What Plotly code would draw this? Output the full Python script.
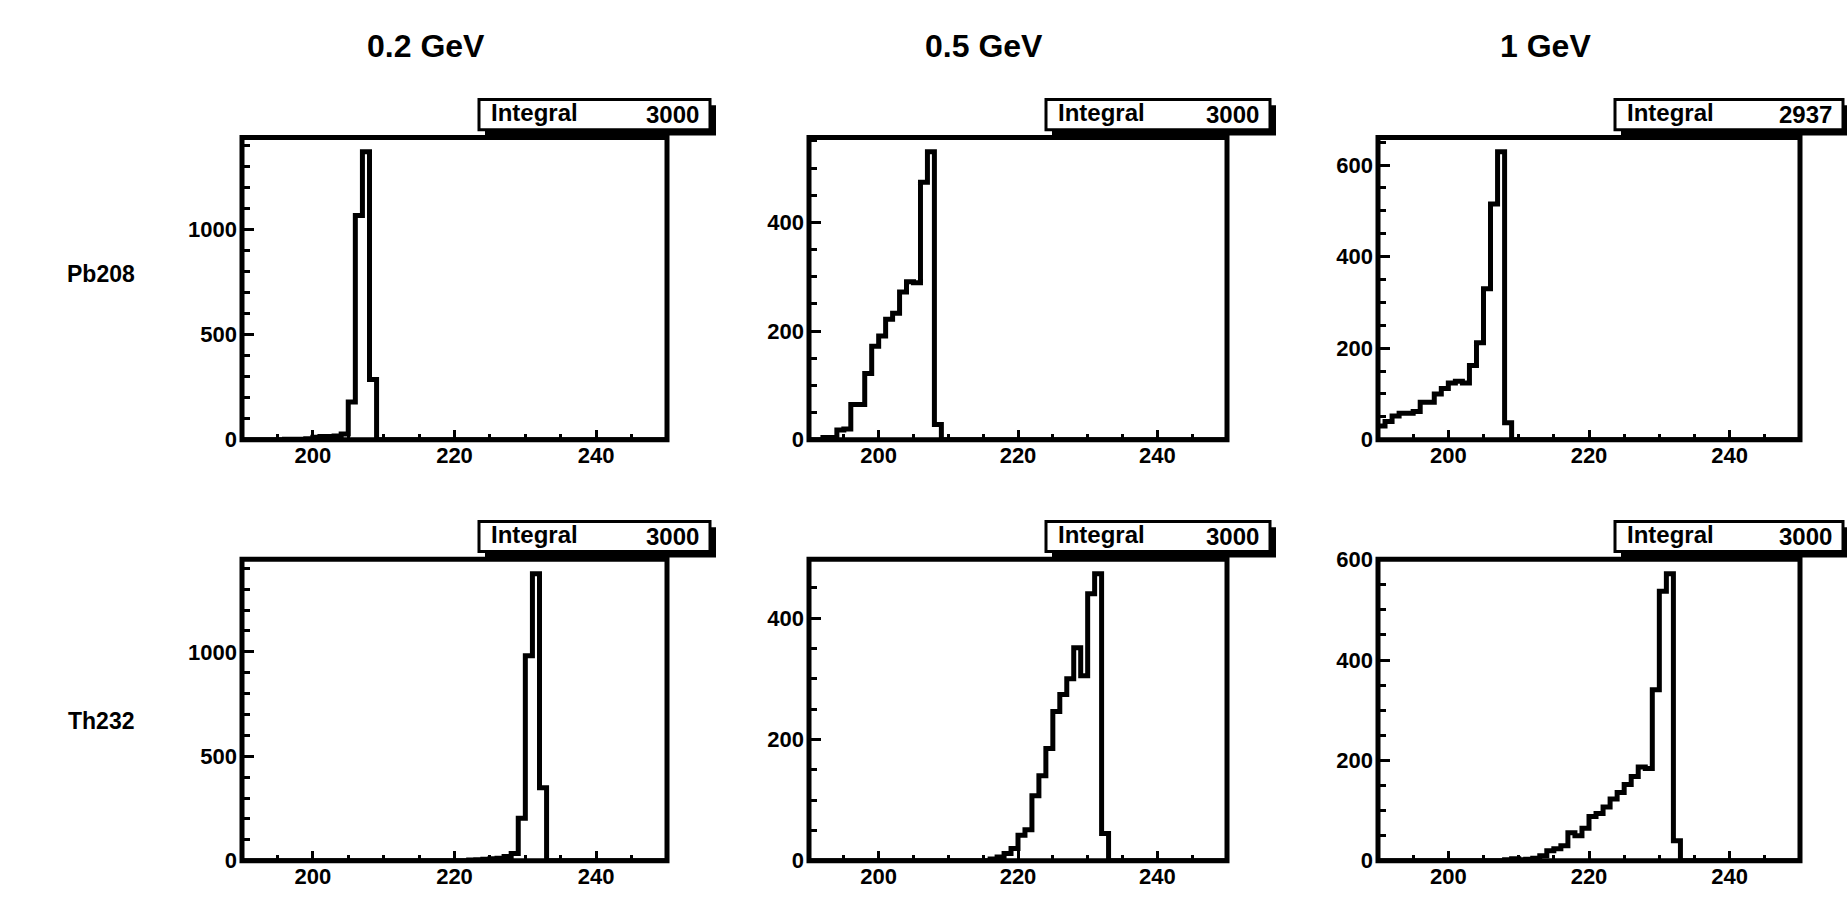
import plotly.graph_objects as go

# Histogram binning (unit-width bins from 190 to 250)
X_MIN, X_MAX = 190, 250

col_titles = ["0.2 GeV", "0.5 GeV", "1 GeV"]
row_titles = ["Pb208", "Th232"]

# Bin contents: first bin low edge + counts of consecutive bins
pb208_02_start = 196
pb208_02 = [2, 3, 3, 5, 12, 15, 15, 18, 28, 179, 1066, 1368, 286]
pb208_05_start = 192
pb208_05 = [4, 4, 18, 20, 65, 65, 122, 172, 191, 222, 233, 272, 291, 289, 474, 530, 28]
pb208_1_start = 190
pb208_1 = [30, 40, 52, 58, 58, 62, 82, 82, 100, 112, 124, 128, 124, 162, 212, 330, 515, 629, 37]

th232_02_start = 222
th232_02 = [3, 5, 7, 10, 12, 20, 35, 203, 981, 1374, 350]
th232_05_start = 216
th232_05 = [3, 6, 12, 20, 42, 51, 107, 140, 185, 246, 274, 300, 351, 305, 440, 473, 45]
th232_1_start = 208
th232_1 = [2, 4, 2, 3, 5, 10, 20, 24, 30, 56, 50, 65, 88, 94, 107, 123, 136, 152, 168,
           187, 184, 341, 537, 572, 40]

integrals = [[3000, 3000, 2937], [3000, 3000, 3000]]

y_major = [[500, 200, 200], [500, 200, 200]]
y_minor = [[100, 50, 50], [100, 50, 50]]

hists = [
    [(pb208_02_start, pb208_02), (pb208_05_start, pb208_05), (pb208_1_start, pb208_1)],
    [(th232_02_start, th232_02), (th232_05_start, th232_05), (th232_1_start, th232_1)],
]

# Page geometry in pixels (frame line centres)
W, H = 1847, 900
col_px = [(242, 667), (809, 1227), (1378, 1800)]
row_px = [(129, 440), (563, 873)]
title_x = [426, 984, 1545]
title_y = 35
row_label_x = 101
row_label_y = [269, 729]

FONT = "Liberation Sans"
LW = 5


def px(x):
    return x / W


def py(y):
    return 1 - y / H


fig = go.Figure()
shapes = []
annotations = []

n = 0
for r in range(2):
    for c in range(3):
        n += 1
        start, counts = hists[r][c]
        nb = X_MAX - X_MIN
        full = [0] * nb
        for i, v in enumerate(counts):
            full[start - X_MIN + i] = v
        xs = list(range(X_MIN, X_MAX + 1))
        ys = full + [full[-1]]
        xa = "x" if n == 1 else f"x{n}"
        ya = "y" if n == 1 else f"y{n}"
        fig.add_trace(go.Scatter(
            x=xs, y=ys, mode="lines", line=dict(shape="hv", color="black", width=LW),
            xaxis=xa, yaxis=ya, showlegend=False, hoverinfo="skip", cliponaxis=False,
        ))
        x0, x1 = col_px[c]
        y0, y1 = row_px[r]
        ymax = 1.05 * max(full)
        tickfont = dict(family=FONT, size=22, color="black", weight="bold")
        fig.layout[f"xaxis{n if n > 1 else ''}"] = dict(
            domain=[px(x0), px(x1)], anchor=ya, range=[X_MIN, X_MAX],
            tick0=0, dtick=20, ticks="inside", ticklen=10, tickwidth=3, tickcolor="black",
            minor=dict(dtick=5, tick0=0, ticks="inside", ticklen=6, tickwidth=3, tickcolor="black"),
            showline=False, showgrid=False, zeroline=False, tickfont=tickfont,
            ticklabelstandoff=0,
        )
        fig.layout[f"yaxis{n if n > 1 else ''}"] = dict(
            domain=[py(y1), py(y0)], anchor=xa, range=[0, ymax],
            tick0=0, dtick=y_major[r][c], ticks="inside", ticklen=12, tickwidth=3,
            tickcolor="black",
            minor=dict(dtick=y_minor[r][c], tick0=0, ticks="inside", ticklen=8, tickwidth=3,
                       tickcolor="black"),
            showline=False, showgrid=False, zeroline=False, tickfont=tickfont,
            ticklabelstandoff=4,
        )

        # Frame around the histogram
        shapes.append(dict(type="rect", xref="paper", yref="paper",
                           x0=px(x0), x1=px(x1), y0=py(y1), y1=py(y0),
                           fillcolor="rgba(0,0,0,0)", line=dict(color="black", width=LW),
                           layer="above"))

        # Statistics box with drop shadow
        bl, br = x0 + 237, x1 + 43
        bt = 90 if r == 0 else 524
        bb = bt + 31
        sh = 6
        shapes.append(dict(type="rect", xref="paper", yref="paper",
                           x0=px(bl + sh), x1=px(br + sh), y0=py(bb + sh), y1=py(bt + sh),
                           fillcolor="black", line=dict(width=0), layer="above"))
        shapes.append(dict(type="rect", xref="paper", yref="paper",
                           x0=px(bl), x1=px(br), y0=py(bb), y1=py(bt),
                           fillcolor="white", line=dict(color="black", width=3), layer="above"))
        annotations.append(dict(xref="paper", yref="paper", x=px(bl + 10), y=py(bt + 13),
                                text="Integral", showarrow=False, xanchor="left",
                                yanchor="middle",
                                font=dict(family=FONT, size=24, color="black", weight="bold")))
        annotations.append(dict(xref="paper", yref="paper", x=px(br - 9), y=py(bt + 15),
                                text=f"{integrals[r][c]}", showarrow=False, xanchor="right",
                                yanchor="middle",
                                font=dict(family=FONT, size=24, color="black", weight="bold")))

for c, t in enumerate(col_titles):
    annotations.append(dict(xref="paper", yref="paper", x=px(title_x[c]), y=py(title_y),
                            text=t, showarrow=False, xanchor="center", yanchor="middle",
                            font=dict(family=FONT, size=32, color="black", weight="bold")))
for r, t in enumerate(row_titles):
    annotations.append(dict(xref="paper", yref="paper", x=px(row_label_x), y=py(row_label_y[r]),
                            text=t, showarrow=False, xanchor="center", yanchor="middle",
                            font=dict(family=FONT, size=23, color="black", weight="bold")))

fig.update_layout(
    width=W, height=H, margin=dict(l=0, r=0, t=0, b=0),
    paper_bgcolor="white", plot_bgcolor="white",
    shapes=shapes, annotations=annotations, showlegend=False,
)

fig.write_html("out.html")
